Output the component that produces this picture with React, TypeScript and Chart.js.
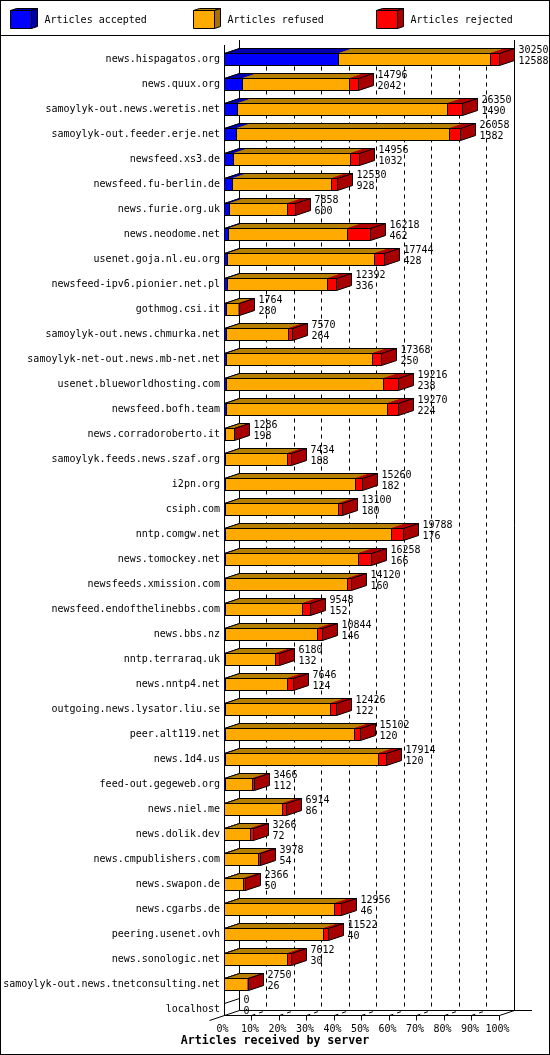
import { useEffect, useRef } from 'react'
import { Chart, registerables } from 'chart.js'

Chart.register(...registerables)

const servers = [
  'news.hispagatos.org', 'news.quux.org', 'samoylyk-out.news.weretis.net', 'samoylyk-out.feeder.erje.net',
  'newsfeed.xs3.de', 'newsfeed.fu-berlin.de', 'news.furie.org.uk', 'news.neodome.net', 'usenet.goja.nl.eu.org',
  'newsfeed-ipv6.pionier.net.pl', 'gothmog.csi.it', 'samoylyk-out.news.chmurka.net',
  'samoylyk-net-out.news.mb-net.net', 'usenet.blueworldhosting.com', 'newsfeed.bofh.team',
  'news.corradoroberto.it', 'samoylyk.feeds.news.szaf.org', 'i2pn.org', 'csiph.com', 'nntp.comgw.net',
  'news.tomockey.net', 'newsfeeds.xmission.com', 'newsfeed.endofthelinebbs.com', 'news.bbs.nz',
  'nntp.terraraq.uk', 'news.nntp4.net', 'outgoing.news.lysator.liu.se', 'peer.alt119.net', 'news.1d4.us',
  'feed-out.gegeweb.org', 'news.niel.me', 'news.dolik.dev', 'news.cmpublishers.com', 'news.swapon.de',
  'news.cgarbs.de', 'peering.usenet.ovh', 'news.sonologic.net', 'samoylyk-out.news.tnetconsulting.net',
  'localhost',
]

const accepted = [
  12588, 2042, 1490, 1382, 1032, 928, 600, 462, 428, 336, 280, 264, 250, 238, 224, 198, 188, 182, 180, 176,
  166, 160, 152, 146, 132, 124, 122, 120, 120, 112, 86, 72, 54, 50, 46, 40, 30, 26, 0,
]
const refused = [
  16778, 11736, 23129, 23458, 12878, 10848, 6429, 13080, 16132, 10998, 1360, 6875, 16089, 17316, 17771, 906,
  6841, 14244, 12406, 18261, 14628, 13382, 8533, 10084, 5572, 6905, 11580, 14195, 16845, 3053, 6317, 2798,
  3700, 2048, 12098, 10890, 6999, 2550, 0,
]
const rejected = [
  884, 1000, 1619, 1214, 957, 699, 809, 2576, 1104, 994, 50, 368, 994, 1656, 1215, 74, 368, 809, 441, 1325,
  1435, 479, 809, 552, 368, 589, 663, 699, 920, 221, 442, 332, 220, 220, 736, 552, 441, 74, 0,
]
const totalLabels = [
  30250, 14796, 26350, 26058, 14956, 12530, 7858, 16218, 17744, 12392, 1764, 7570, 17368, 19216, 19270, 1286,
  7434, 15260, 13100, 19788, 16258, 14120, 9548, 10844, 6180, 7646, 12426, 15102, 17914, 3466, 6914, 3266,
  3978, 2366, 12956, 11522, 7612, 2750, 0,
]
const axisMax = 30250

const seriesNames = ['Articles accepted', 'Articles refused', 'Articles rejected']
const frontColors = ['#0000ff', '#ffaa00', '#ff0000']
const topColors = ['#0000b0', '#b88000', '#b00000']
const sideColors = ['#0000a8', '#a87000', '#a80000']
const chartTitle = 'Articles received by server'

const MONO = '"DejaVu Sans Mono", "Liberation Mono", monospace'
const DEPTH_X = 15
const DEPTH_Y = 5
const WALL_TOP = 40
const FLOOR_BACK = 1010.5
const FLOOR_FRONT = 1015.5

function line(ctx: CanvasRenderingContext2D, x1: number, y1: number, x2: number, y2: number) {
  ctx.beginPath()
  ctx.moveTo(x1, y1)
  ctx.lineTo(x2, y2)
  ctx.stroke()
}

function poly(ctx: CanvasRenderingContext2D, pts: number[][], fill: string) {
  ctx.beginPath()
  pts.forEach(([x, y], i) => (i ? ctx.lineTo(x, y) : ctx.moveTo(x, y)))
  ctx.closePath()
  ctx.fillStyle = fill
  ctx.fill()
  ctx.stroke()
}

// pixel column a value lands on, so vertical edges stay crisp
const column = (scale: any, value: number) => Math.floor(scale.getPixelForValue(value))

const frame3d = {
  id: 'frame3d',
  beforeDraw(chart: Chart) {
    const { ctx, width, height } = chart
    const x = chart.scales.x
    ctx.save()
    ctx.fillStyle = '#fff'
    ctx.fillRect(0, 0, width, height)
    ctx.strokeStyle = '#000'
    ctx.lineWidth = 1
    ctx.strokeRect(0.5, 0.5, width - 1, height - 1)
    line(ctx, 0, 35.5, width, 35.5)

    // legend
    const legendX = [10.5, 193.5, 376.5]
    seriesNames.forEach((name, i) => {
      const l = legendX[i]
      const r = l + 21
      poly(ctx, [[l, 10.5], [l + 6, 8.5], [r + 6, 8.5], [r, 10.5]], topColors[i])
      poly(ctx, [[r, 10.5], [r + 6, 8.5], [r + 6, 26.5], [r, 28.5]], sideColors[i])
      poly(ctx, [[l, 10.5], [r, 10.5], [r, 28.5], [l, 28.5]], frontColors[i])
      ctx.fillStyle = '#000'
      ctx.font = `10px ${MONO}`
      ctx.textBaseline = 'middle'
      ctx.textAlign = 'left'
      ctx.fillText(name, l + 34, 20)
    })

    // title sits under the axis, centred on the whole image
    ctx.font = `bold 11.6px ${MONO}`
    ctx.fillStyle = '#000'
    ctx.textAlign = 'center'
    ctx.textBaseline = 'middle'
    ctx.fillText(chartTitle, width / 2, 1041)

    // walls and floor
    const x0 = column(x, 0) + 0.5
    const x100 = column(x, axisMax) + 0.5
    line(ctx, x0, WALL_TOP + DEPTH_Y, x0, FLOOR_FRONT)
    line(ctx, x0 + DEPTH_X, WALL_TOP, x0 + DEPTH_X, FLOOR_BACK)
    line(ctx, x100 + DEPTH_X, WALL_TOP, x100 + DEPTH_X, FLOOR_BACK)
    line(ctx, x0 - DEPTH_X, FLOOR_FRONT + DEPTH_Y, x0 + DEPTH_X, FLOOR_BACK)
    line(ctx, x0 + DEPTH_X, FLOOR_BACK, 532, FLOOR_BACK)
    line(ctx, x0, FLOOR_FRONT, x100, FLOOR_FRONT)
    line(ctx, x100, FLOOR_FRONT, x100 + DEPTH_X, FLOOR_BACK)

    x.ticks.forEach((t) => {
      if (t.value === 0) return
      const px = column(x, t.value) + 0.5
      line(ctx, px, FLOOR_FRONT, px, FLOOR_FRONT + 5)
    })

    // dashed grid, floor and back wall
    ctx.setLineDash([4, 4])
    x.ticks.forEach((t) => {
      if (t.value === 0 || t.value === axisMax) return
      const px = column(x, t.value) + 0.5
      ctx.lineDashOffset = 0
      line(ctx, px, FLOOR_FRONT, px + DEPTH_X, FLOOR_BACK)
      ctx.lineDashOffset = 4
      line(ctx, px + DEPTH_X, FLOOR_BACK, px + DEPTH_X, 48)
    })
    ctx.restore()
  },
  beforeDatasetsDraw(chart: Chart) {
    const { ctx } = chart
    const x = chart.scales.x
    ctx.save()
    ctx.strokeStyle = '#000'
    ctx.lineWidth = 1

    // snap the front faces to whole pixels, as the faces behind them are
    chart.data.datasets.forEach((_, d) => {
      chart.getDatasetMeta(d).data.forEach((el: any) => {
        el.x = Math.floor(el.x)
        el.base = Math.floor(el.base)
      })
    })

    servers.forEach((_, i) => {
      const bar = chart.getDatasetMeta(0).data[i] as any
      const top = bar.y - 6
      const bottom = bar.y + 6
      const series = [accepted[i], refused[i], rejected[i]]
      let sum = 0
      series.forEach((v, s) => {
        const a = column(x, sum) + 0.5
        sum += v
        const b = column(x, sum) + 0.5
        if (v === 0) return
        ctx.strokeStyle = topColors[s]
        poly(ctx, [[a, top], [a + DEPTH_X, top - DEPTH_Y], [b + DEPTH_X, top - DEPTH_Y], [b, top]], topColors[s])
        ctx.strokeStyle = '#000'
      })
      const end = column(x, sum) + 0.5
      const start = column(x, 0) + 0.5
      line(ctx, start, top, start + DEPTH_X, top - DEPTH_Y)
      if (sum > 0) {
        line(ctx, start + DEPTH_X, top - DEPTH_Y, end + DEPTH_X, top - DEPTH_Y)
        poly(ctx, [[end, top], [end + DEPTH_X, top - DEPTH_Y], [end + DEPTH_X, bottom - DEPTH_Y], [end, bottom]], sideColors[2])
      }
    })
    ctx.restore()
  },
  afterDatasetsDraw(chart: Chart) {
    const { ctx } = chart
    const x = chart.scales.x
    ctx.save()
    ctx.strokeStyle = '#000'
    ctx.fillStyle = '#000'
    ctx.font = `10px ${MONO}`
    ctx.textAlign = 'left'
    ctx.textBaseline = 'middle'
    servers.forEach((_, i) => {
      const bar = chart.getDatasetMeta(0).data[i] as any
      const sum = accepted[i] + refused[i] + rejected[i]
      const end = column(x, sum) + 0.5
      if (sum > 0) line(ctx, end, bar.y - 6, end, bar.y + 6)
      ctx.fillText(String(totalLabels[i]), end + DEPTH_X + 4, bar.y - 9)
      ctx.fillText(String(accepted[i]), end + DEPTH_X + 4, bar.y + 2)
    })
    ctx.restore()
  },
}

export default function App() {
  const canvasRef = useRef<HTMLCanvasElement>(null)

  useEffect(() => {
    document.body.style.margin = '0'
    if (!canvasRef.current) return
    const chart = new Chart(canvasRef.current, {
      type: 'bar',
      data: {
        labels: servers,
        datasets: [accepted, refused, rejected].map((data, i) => ({
          label: seriesNames[i],
          data,
          backgroundColor: frontColors[i],
          borderColor: '#000',
          borderWidth: { top: 1, bottom: 1, left: 1, right: 0 },
          borderSkipped: false,
          inflateAmount: 0,
          barThickness: 13,
        })),
      },
      options: {
        indexAxis: 'y',
        responsive: false,
        devicePixelRatio: 1,
        animation: false,
        layout: { padding: { top: 47, right: 51, bottom: 0, left: 0 } },
        plugins: {
          legend: { display: false },
          tooltip: { enabled: false },
        },
        scales: {
          x: {
            stacked: true,
            min: 0,
            max: axisMax,
            grid: { display: false, drawTicks: false },
            border: { display: false },
            afterFit(scale) {
              scale.height = 33
            },
            ticks: {
              stepSize: axisMax / 10,
              color: '#000',
              padding: 1,
              labelOffset: -1.5,
              maxRotation: 0,
              font: { family: MONO, size: 10 },
              callback(value) {
                return `${Math.round((Number(value) / axisMax) * 100)}%`
              },
            },
          },
          y: {
            stacked: true,
            grid: { display: false, drawTicks: false },
            border: { display: false },
            afterFit(scale) {
              scale.width = 224
            },
            ticks: {
              autoSkip: false,
              color: '#000',
              padding: 4,
              font: { family: MONO, size: 10 },
            },
          },
        },
      },
      plugins: [frame3d],
    })
    return () => chart.destroy()
  }, [])

  return (
    <div style={{ width: 550, height: 1055 }}>
      <canvas ref={canvasRef} width={550} height={1055} style={{ display: 'block' }} />
    </div>
  )
}
